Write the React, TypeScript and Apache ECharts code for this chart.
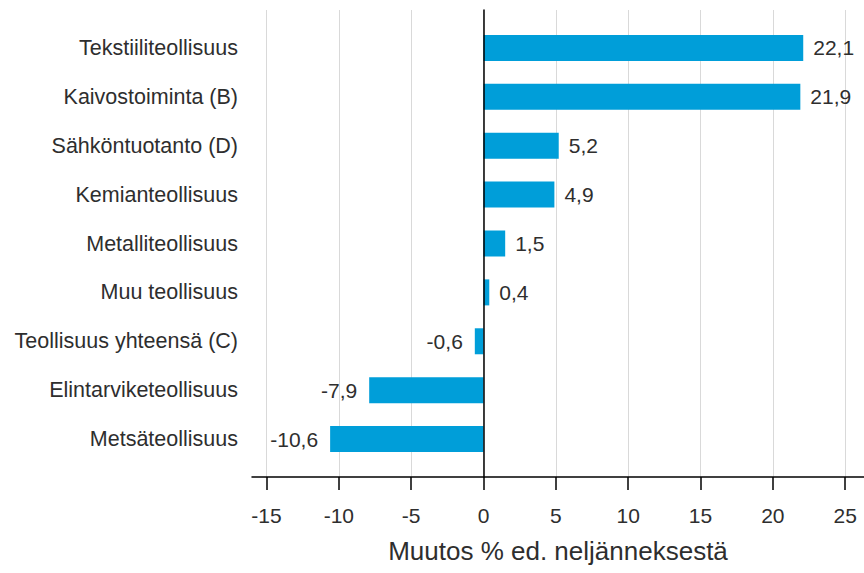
import React, { useEffect, useRef } from 'react';
import * as echarts from 'echarts';

const categories = [
  'Tekstiiliteollisuus',
  'Kaivostoiminta (B)',
  'Sähköntuotanto (D)',
  'Kemianteollisuus',
  'Metalliteollisuus',
  'Muu teollisuus',
  'Teollisuus yhteensä (C)',
  'Elintarviketeollisuus',
  'Metsäteollisuus',
];
const values = [22.1, 21.9, 5.2, 4.9, 1.5, 0.4, -0.6, -7.9, -10.6];
const axisTitle = 'Muutos % ed. neljänneksestä';
const tickMin = -15;
const tickMax = 25;
const tickStep = 5;

const FONT = '"Liberation Sans", Arial, sans-serif';
const TEXT = '#2e2e2e';
const XMIN = -16;
const XMAX = 26.3;
const PLOT_LEFT = 252;
const PLOT_RIGHT = 864;

export default function App() {
  const ref = useRef<HTMLDivElement>(null);
  useEffect(() => {
    if (!ref.current) return;
    const chart = echarts.init(ref.current, undefined, { renderer: 'svg' });
    const pxPerUnit = (PLOT_RIGHT - PLOT_LEFT) / (XMAX - XMIN);
    const cLeft = PLOT_LEFT + (tickMin - XMIN) * pxPerUnit;
    const cRight = PLOT_LEFT + (tickMax - XMIN) * pxPerUnit;
    const fmt = (v: number) => String(v).replace('.', ',');
    chart.setOption({
      animation: false,
      backgroundColor: '#ffffff',
      textStyle: { fontFamily: FONT },
      grid: [
        { left: PLOT_LEFT, width: PLOT_RIGHT - PLOT_LEFT, top: 23.5, height: 440 },
        { left: PLOT_LEFT, width: PLOT_RIGHT - PLOT_LEFT, top: 10, height: 467 },
        { left: cLeft, width: cRight - cLeft, top: 10, height: 467 },
      ],
      xAxis: [
        { gridIndex: 0, type: 'value', min: XMIN, max: XMAX, show: false },
        {
          gridIndex: 1,
          type: 'value',
          min: XMIN,
          max: XMAX,
          axisLine: { show: true, onZero: false, lineStyle: { color: '#000', width: 1.5 } },
          axisTick: { show: false },
          axisLabel: { show: false },
          splitLine: { show: false },
          name: axisTitle,
          nameLocation: 'middle',
          nameGap: 61,
          nameTextStyle: { fontSize: 26, color: TEXT, fontFamily: FONT },
        },
        {
          gridIndex: 2,
          type: 'value',
          min: tickMin,
          max: tickMax,
          interval: tickStep,
          axisLine: { show: false },
          axisTick: { show: true, length: 13, lineStyle: { color: '#000', width: 1.5 } },
          axisLabel: {
            show: true,
            margin: 28,
            fontSize: 21,
            color: TEXT,
            fontFamily: FONT,
            formatter: (v: number) => fmt(v),
          },
          splitLine: { show: true, lineStyle: { color: '#d9d9d9', width: 1 } },
        },
      ],
      yAxis: [
        {
          gridIndex: 0,
          type: 'category',
          inverse: true,
          data: categories,
          axisLine: { show: false, onZero: false },
          axisTick: { show: false },
          axisLabel: { margin: 14, fontSize: 21.5, color: TEXT, fontFamily: FONT },
        },
        {
          gridIndex: 1,
          type: 'value',
          min: 0,
          max: 1,
          z: 5,
          axisLine: { show: true, onZero: true, lineStyle: { color: '#000', width: 1.5 } },
          axisTick: { show: false },
          axisLabel: { show: false },
          splitLine: { show: false },
        },
        { gridIndex: 2, type: 'value', show: false, min: 0, max: 1, splitLine: { show: false } },
      ],
      series: [
        {
          type: 'bar',
          xAxisIndex: 0,
          yAxisIndex: 0,
          barWidth: 26,
          itemStyle: { color: '#009ed9' },
          label: {
            show: true,
            fontSize: 21,
            color: TEXT,
            fontFamily: FONT,
            distance: 10,
            formatter: (p: any) => fmt(p.value),
          },
          data: values.map((v) => ({
            value: v,
            label: { position: v >= 0 ? 'right' : 'left', distance: v >= 0 ? 10 : 12 },
          })),
        },
      ],
    });
    return () => chart.dispose();
  }, []);
  return (
    <div
      ref={ref}
      style={{ position: 'absolute', left: 0, top: 0, width: 864, height: 573 }}
    />
  );
}
